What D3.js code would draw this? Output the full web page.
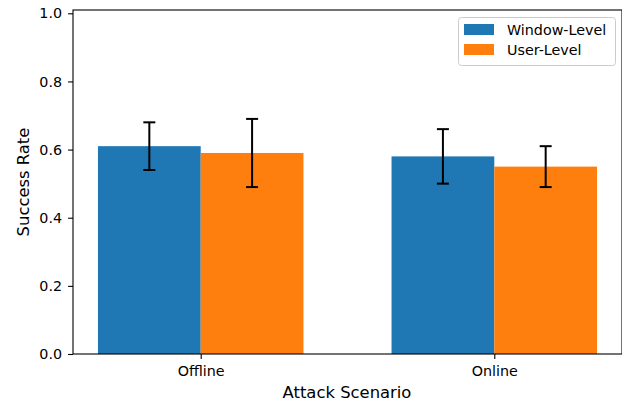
<!DOCTYPE html>
<html><head><meta charset="utf-8">
<script src="https://cdn.jsdelivr.net/npm/d3@7"></script>
<style>body{margin:0;background:#fff}svg{display:block}text{font-family:"DejaVu Sans",sans-serif}</style>
</head><body><svg id="c" width="622" height="405"></svg>
<script>
const categories = ["Offline", "Online"];
const seriesNames = ["Window-Level", "User-Level"];
const windowLevel = [0.61, 0.58];
const userLevel = [0.59, 0.55];
const windowErr = [0.07, 0.08];
const userErr = [0.10, 0.06];
const yTicks = [0.0, 0.2, 0.4, 0.6, 0.8, 1.0];
const colors = ["#1f77b4", "#ff7f0e"];

const svg = d3.select("#c");
const m = {l: 73, r: 622, t: 10, b: 354};
const x = d3.scaleLinear().domain([-0.435, 1.435]).range([m.l, m.r]);
const y = d3.scaleLinear().domain([0, 1.0097]).range([m.b, m.t]);
const bw = 0.35;
const series = [
  {name: seriesNames[0], vals: windowLevel, err: windowErr, off: -bw/2, color: colors[0]},
  {name: seriesNames[1], vals: userLevel, err: userErr, off: bw/2, color: colors[1]}
];

series.forEach(s => {
  svg.append("g").selectAll("rect").data(categories).join("rect")
    .attr("x", (d,i) => x(i + s.off - bw/2))
    .attr("width", (d,i) => x(i + s.off + bw/2) - x(i + s.off - bw/2))
    .attr("y", (d,i) => y(s.vals[i]))
    .attr("height", (d,i) => y(0) - y(s.vals[i]))
    .attr("fill", s.color);
});
series.forEach(s => {
  const g = svg.append("g").attr("stroke", "#000").attr("stroke-width", 2);
  categories.forEach((c,i) => {
    const cx = x(i + s.off);
    const lo = y(s.vals[i] - s.err[i]), hi = y(s.vals[i] + s.err[i]);
    g.append("line").attr("x1", cx).attr("x2", cx).attr("y1", lo).attr("y2", hi);
    g.append("line").attr("x1", cx-6).attr("x2", cx+6).attr("y1", lo).attr("y2", lo);
    g.append("line").attr("x1", cx-6).attr("x2", cx+6).attr("y1", hi).attr("y2", hi);
  });
});

// axes
const yAxis = d3.axisLeft(y).tickValues(yTicks).tickFormat(d3.format(".1f")).tickSize(4.9).tickPadding(6.0);
const gy = svg.append("g").attr("transform", `translate(${m.l},0)`).call(yAxis);
gy.select(".domain").remove();
gy.selectAll("text").attr("font-size", "14.3px").attr("fill", "#000").attr("font-family", "DejaVu Sans");
gy.selectAll("line").attr("stroke", "#000").attr("stroke-width", 1.1);

const xAxis = d3.axisBottom(x).tickValues([0, 1]).tickFormat((d) => categories[d]).tickSize(4.9).tickPadding(6.9);
const gx = svg.append("g").attr("transform", `translate(0,${m.b})`).call(xAxis);
gx.select(".domain").remove();
gx.selectAll("text").attr("font-size", "14.3px").attr("fill", "#000").attr("font-family", "DejaVu Sans");
gx.selectAll("line").attr("stroke", "#000").attr("stroke-width", 1.1);

// spines
svg.append("rect").attr("x", m.l).attr("y", m.t).attr("width", m.r - m.l).attr("height", m.b - m.t)
  .attr("fill", "none").attr("stroke", "#000").attr("stroke-width", 1.1);

svg.append("text").attr("x", (m.l + m.r)/2 - 0.5).attr("y", 398).attr("text-anchor", "middle")
  .attr("font-size", "16.4px").text("Attack Scenario");
svg.append("text").attr("transform", `translate(28.5,${(m.t+m.b)/2}) rotate(-90)`).attr("text-anchor", "middle")
  .attr("font-size", "16.4px").text("Success Rate");

// legend
const lg = svg.append("g");
lg.append("rect").attr("x", 458.5).attr("y", 17.5).attr("width", 157).attr("height", 48).attr("rx", 3)
  .attr("fill", "#fff").attr("fill-opacity", 0.8).attr("stroke", "#ccc").attr("stroke-width", 1);
series.forEach((s, i) => {
  lg.append("rect").attr("x", 464).attr("y", 24 + i*20).attr("width", 30).attr("height", 11).attr("fill", s.color);
  lg.append("text").attr("x", 507).attr("y", 34.5 + i*20).attr("font-size", "14.3px").text(s.name);
});
</script></body></html>
